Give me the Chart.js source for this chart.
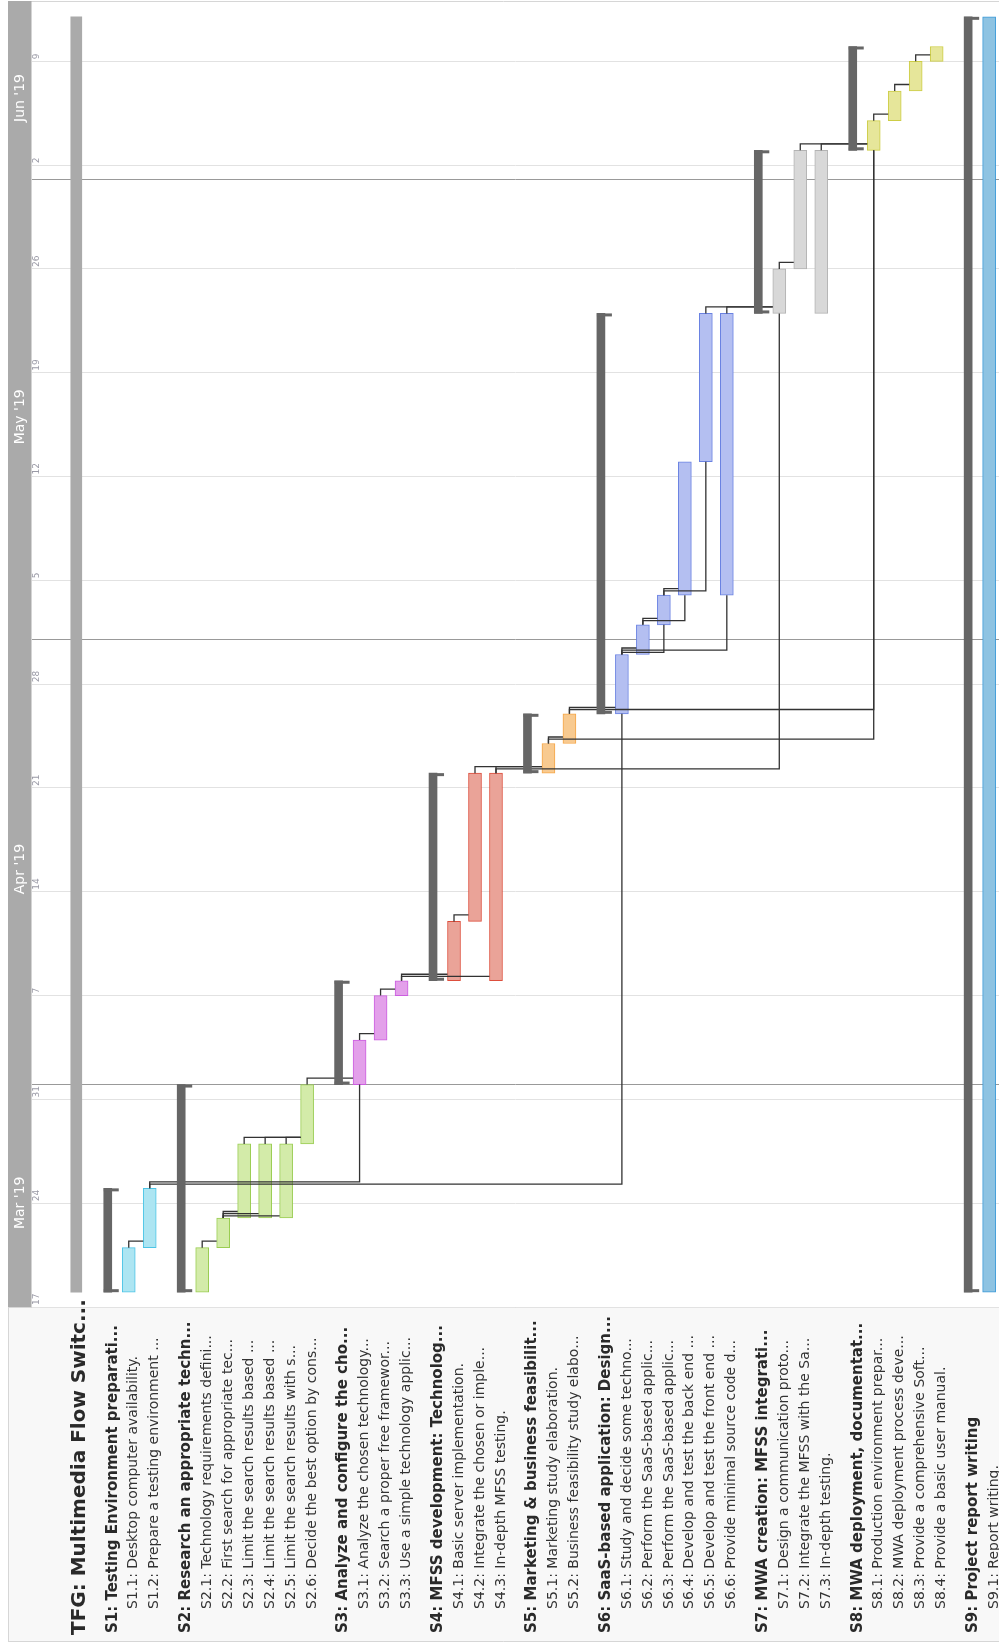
<!DOCTYPE html>
<html>
<head>
<meta charset="utf-8">
<script src="https://cdn.jsdelivr.net/npm/chart.js@4.4.1/dist/chart.umd.min.js"></script>
<style>
  html, body { margin: 0; padding: 0; background: #fff; }
  #wrap { width: 999px; height: 1644px; position: relative; }
</style>
</head>
<body>
<div id="wrap"><canvas id="gantt"></canvas></div>
<script>
const taskLabels = [
  'TFG: Multimedia Flow Switc...',
  'S1: Testing Environment preparati...',
  'S1.1: Desktop computer availability.',
  'S1.2: Prepare a testing environment ...',
  'S2: Research an appropriate techn...',
  'S2.1: Technology requirements defini...',
  'S2.2: First search for appropriate tec...',
  'S2.3: Limit the search results based ...',
  'S2.4: Limit the search results based ...',
  'S2.5: Limit the search results with s...',
  'S2.6: Decide the best option by cons...',
  'S3: Analyze and configure the cho...',
  'S3.1: Analyze the chosen technology...',
  'S3.2: Search a proper free framewor...',
  'S3.3: Use a simple technology applic...',
  'S4: MFSS development: Technolog...',
  'S4.1: Basic server implementation.',
  'S4.2: Integrate the chosen or imple...',
  'S4.3: In-depth MFSS testing.',
  'S5: Marketing & business feasibilit...',
  'S5.1: Marketing study elaboration.',
  'S5.2: Business feasibility study elabo...',
  'S6: SaaS-based application: Design...',
  'S6.1: Study and decide some techno...',
  'S6.2: Perform the SaaS-based applic...',
  'S6.3: Perform the SaaS-based applic...',
  'S6.4: Develop and test the back end ...',
  'S6.5: Develop and test the front end ...',
  'S6.6: Provide minimal source code d...',
  'S7: MWA creation: MFSS integrati...',
  'S7.1: Design a communication proto...',
  'S7.2: Integrate the MFSS with the Sa...',
  'S7.3: In-depth testing.',
  'S8: MWA deployment, documentat...',
  'S8.1: Production environment prepar...',
  'S8.2: MWA deployment process deve...',
  'S8.3: Provide a comprehensive Soft...',
  'S8.4: Provide a basic user manual.',
  'S9: Project report writing',
  'S9.1: Report writing.'
];

const taskStart = [
  '2019-03-18',
  '2019-03-18', '2019-03-18', '2019-03-21',
  '2019-03-18', '2019-03-18', '2019-03-21', '2019-03-23', '2019-03-23', '2019-03-23', '2019-03-28',
  '2019-04-01', '2019-04-01', '2019-04-04', '2019-04-07',
  '2019-04-08', '2019-04-08', '2019-04-12', '2019-04-08',
  '2019-04-22', '2019-04-22', '2019-04-24',
  '2019-04-26', '2019-04-26', '2019-04-30', '2019-05-02', '2019-05-04', '2019-05-13', '2019-05-04',
  '2019-05-23', '2019-05-23', '2019-05-26', '2019-05-23',
  '2019-06-03', '2019-06-03', '2019-06-05', '2019-06-07', '2019-06-09',
  '2019-03-18', '2019-03-18'
];

const taskEnd = [
  '2019-06-12',
  '2019-03-25', '2019-03-21', '2019-03-25',
  '2019-04-01', '2019-03-21', '2019-03-23', '2019-03-28', '2019-03-28', '2019-03-28', '2019-04-01',
  '2019-04-08', '2019-04-04', '2019-04-07', '2019-04-08',
  '2019-04-22', '2019-04-12', '2019-04-22', '2019-04-22',
  '2019-04-26', '2019-04-24', '2019-04-26',
  '2019-05-23', '2019-04-30', '2019-05-02', '2019-05-04', '2019-05-13', '2019-05-23', '2019-05-23',
  '2019-06-03', '2019-05-26', '2019-06-03', '2019-06-03',
  '2019-06-10', '2019-06-05', '2019-06-07', '2019-06-09', '2019-06-10',
  '2019-06-12', '2019-06-12'
];

const links = [
  ['S1.1', 'S1.2'], ['S1.2', 'S3.1'], ['S1.2', 'S6.1'],
  ['S2.1', 'S2.2'], ['S2.2', 'S2.3'], ['S2.2', 'S2.4'], ['S2.2', 'S2.5'],
  ['S2.3', 'S2.6'], ['S2.4', 'S2.6'], ['S2.5', 'S2.6'], ['S2.6', 'S3.1'],
  ['S3.1', 'S3.2'], ['S3.2', 'S3.3'], ['S3.3', 'S4.1'], ['S3.3', 'S4.3'],
  ['S4.1', 'S4.2'], ['S4.2', 'S5.1'], ['S4.3', 'S5.1'], ['S4.3', 'S7.1'],
  ['S5.1', 'S5.2'], ['S5.1', 'S8.1'], ['S5.2', 'S6.1'], ['S5.2', 'S8.1'],
  ['S6.1', 'S6.2'], ['S6.1', 'S6.6'], ['S6.1', 'S6.3'], ['S6.2', 'S6.3'], ['S6.2', 'S6.4'],
  ['S6.3', 'S6.4'], ['S6.3', 'S6.5'], ['S6.5', 'S7.1'], ['S6.6', 'S7.1'],
  ['S7.1', 'S7.2'], ['S7.2', 'S8.1'], ['S7.3', 'S8.1'],
  ['S8.1', 'S8.2'], ['S8.2', 'S8.3'], ['S8.3', 'S8.4']
];

const rangeStart = '2019-03-17';
const rangeEnd = '2019-06-13';
const monthNames = ['Jan', 'Feb', 'Mar', 'Apr', 'May', 'Jun', 'Jul', 'Aug', 'Sep', 'Oct', 'Nov', 'Dec'];

// colours per section S1..S9
const fills = ['#ade5f2', '#d3eba9', '#e3a0ea', '#eaa398', '#f8ca90', '#b4bff1', '#d8d8d8', '#e6e69a', '#8ec3e2'];
const lines = ['#4cc4e6', '#9acd52', '#cc5ee0', '#dd4e3c', '#f6a647', '#6a82e2', '#b3b3b3', '#cdcd45', '#3b99d8'];

const origin = Date.parse(rangeStart + 'T00:00:00Z');
const dayOf = s => (Date.parse(s + 'T00:00:00Z') - origin) / 864e5;

// one row per label, extra half row before each section
const rows = [];
let pos = 0;
taskLabels.forEach((label, i) => {
  const id = label.split(':')[0];
  const kind = i === 0 ? 'project' : (id.includes('.') ? 'task' : 'group');
  if (i > 0) pos += kind === 'group' ? 1.5 : 1;
  const group = kind === 'project' ? 0 : parseInt(id.slice(1));
  rows.push({ id, kind, group, pos, label, start: dayOf(taskStart[i]), end: dayOf(taskEnd[i]) });
});
const byId = {};
rows.forEach(r => byId[r.id] = r);

const pick = kind => rows.filter(r => r.kind === kind);
const point = r => ({ x: r.pos, y: [r.start, r.end] });
const tasks = pick('task');

const maxDay = dayOf(rangeEnd);
const weekTicks = [];
for (let d = 0; d <= maxDay; d += 7) weekTicks.push(d);
const monthTicks = [];
for (let m = 2; m <= 5; m++) {
  const d = (Date.UTC(2019, m, 1) - origin) / 864e5;
  if (d > 0 && d < maxDay) monthTicks.push(d);
}

const TASK_W = 13;

const ganttDecor = {
  id: 'ganttDecor',
  beforeDraw(chart) {
    const { ctx, chartArea: a, scales: { y } } = chart;
    ctx.save();
    ctx.fillStyle = '#ffffff';
    ctx.fillRect(0, 0, chart.width, chart.height);
    // label panel
    ctx.fillStyle = '#f8f8f8';
    ctx.fillRect(8, a.bottom, chart.width - 8, chart.height - 2 - a.bottom);
    ctx.strokeStyle = '#d6d6d6';
    ctx.lineWidth = 1;
    ctx.beginPath();
    ctx.moveTo(8, a.bottom + 0.5); ctx.lineTo(chart.width, a.bottom + 0.5);
    ctx.moveTo(8, chart.height - 2.5); ctx.lineTo(chart.width, chart.height - 2.5);
    ctx.moveTo(8.5, a.bottom); ctx.lineTo(8.5, chart.height - 2);
    ctx.moveTo(8, a.top - 0.5); ctx.lineTo(chart.width, a.top - 0.5);
    ctx.stroke();
    // month band
    ctx.fillStyle = '#aaaaaa';
    ctx.fillRect(8, a.top - 1, a.left - 8.5, a.bottom - a.top + 1);
    ctx.fillStyle = '#ffffff';
    ctx.font = '14px "DejaVu Sans"';
    ctx.textAlign = 'center';
    ctx.textBaseline = 'middle';
    for (let m = 2; m <= 5; m++) {
      const s = Math.max(0, (Date.UTC(2019, m, 1) - origin) / 864e5);
      const e = Math.min(maxDay, (Date.UTC(2019, m + 1, 1) - origin) / 864e5);
      const cy = (y.getPixelForValue(s) + y.getPixelForValue(e)) / 2 + 7;
      ctx.save();
      ctx.translate((8 + a.left) / 2, cy);
      ctx.rotate(-Math.PI / 2);
      ctx.fillText(monthNames[m] + " '19", 0, 0);
      ctx.restore();
    }
    ctx.restore();
  },
  afterDatasetDraw(chart, args) {
    const { ctx, scales: { x, y } } = chart;
    if (args.index === 2) {
      // dependency connectors
      const count = {};
      ctx.save();
      ctx.strokeStyle = '#333333';
      ctx.lineWidth = 1.3;
      links.forEach(([p, s]) => {
        const a = byId[p], b = byId[s];
        const k = count[p] = (count[p] === undefined ? 0 : count[p] + 1);
        const xp = x.getPixelForValue(a.pos), xs = x.getPixelForValue(b.pos);
        const ye = y.getPixelForValue(a.end), ys = y.getPixelForValue(b.start);
        const hy = ye - (6.5 - 2.2 * k);
        ctx.beginPath();
        ctx.moveTo(xp, ye);
        ctx.lineTo(xp, hy);
        if (ys >= hy) {
          ctx.lineTo(xs + (xs > xp ? -1 : 1) * TASK_W / 2, hy);
        } else {
          ctx.lineTo(xs, hy);
          ctx.lineTo(xs, ys);
        }
        ctx.stroke();
      });
      ctx.restore();
    }
    if (args.index === 0) {
      // bracket caps on summary bars
      const meta = chart.getDatasetMeta(0);
      ctx.save();
      ctx.fillStyle = '#666666';
      meta.data.forEach(el => {
        const left = el.x - el.width / 2;
        const top = Math.min(el.y, el.base), bottom = Math.max(el.y, el.base);
        ctx.fillRect(left, top, 15, 3);
        ctx.fillRect(left, bottom - 3, 15, 3);
      });
      ctx.restore();
    }
  },
  afterDraw(chart) {
    const { ctx, chartArea: a, scales: { x, y } } = chart;
    ctx.save();
    // day numbers
    ctx.fillStyle = '#9a9aa6';
    ctx.font = '9px "DejaVu Sans"';
    ctx.textAlign = 'left';
    ctx.textBaseline = 'middle';
    weekTicks.forEach(d => {
      const day = new Date(origin + d * 864e5).getUTCDate();
      ctx.save();
      ctx.translate(a.left + 5, y.getPixelForValue(d) - 2);
      ctx.rotate(-Math.PI / 2);
      ctx.fillText(String(day), 0, 0);
      ctx.restore();
    });
    // row labels
    rows.forEach(r => {
      let font = '14px "DejaVu Sans"', y0 = 1609, dx = 5, col = '#333333';
      if (r.kind === 'project') { font = 'bold 20px "DejaVu Sans"'; y0 = 1635; dx = 3.5; col = '#2a2a2a'; }
      if (r.kind === 'group') { font = 'bold 15px "DejaVu Sans"'; y0 = 1633; col = '#2a2a2a'; }
      ctx.font = font;
      ctx.fillStyle = col;
      ctx.save();
      ctx.translate(x.getPixelForValue(r.pos) + dx, y0);
      ctx.rotate(-Math.PI / 2);
      ctx.fillText(r.label, 0, 0);
      ctx.restore();
    });
    ctx.restore();
  }
};

new Chart(document.getElementById('gantt'), {
  type: 'bar',
  data: {
    datasets: [
      {
        label: 'Sections',
        data: pick('group').map(point),
        backgroundColor: '#666666',
        borderWidth: 0,
        barThickness: 8
      },
      {
        label: 'Project',
        data: pick('project').map(point),
        backgroundColor: '#aaaaaa',
        borderWidth: 0,
        barThickness: 11
      },
      {
        label: 'Tasks',
        data: tasks.map(point),
        backgroundColor: tasks.map(r => fills[r.group - 1]),
        borderColor: tasks.map(r => lines[r.group - 1]),
        borderWidth: 1,
        borderSkipped: false,
        barThickness: TASK_W
      }
    ]
  },
  options: {
    responsive: true,
    maintainAspectRatio: false,
    animation: false,
    skipNull: true,
    layout: { padding: { left: 32, right: 0, top: 2, bottom: 337 } },
    scales: {
      x: { type: 'linear', offset: false, min: -2.11, max: 43.97, display: false },
      y: {
        type: 'linear',
        min: 0,
        max: maxDay,
        afterBuildTicks: scale => {
          scale.ticks = weekTicks.concat(monthTicks).map(v => ({ value: v }));
        },
        ticks: { display: false },
        border: { display: false },
        grid: {
          drawTicks: false,
          color: c => monthTicks.includes(c.tick.value) ? '#999999' : '#e2e2e2',
          lineWidth: 1
        }
      }
    },
    plugins: {
      legend: { display: false },
      tooltip: { enabled: false }
    }
  },
  plugins: [ganttDecor]
});
</script>
</body>
</html>
